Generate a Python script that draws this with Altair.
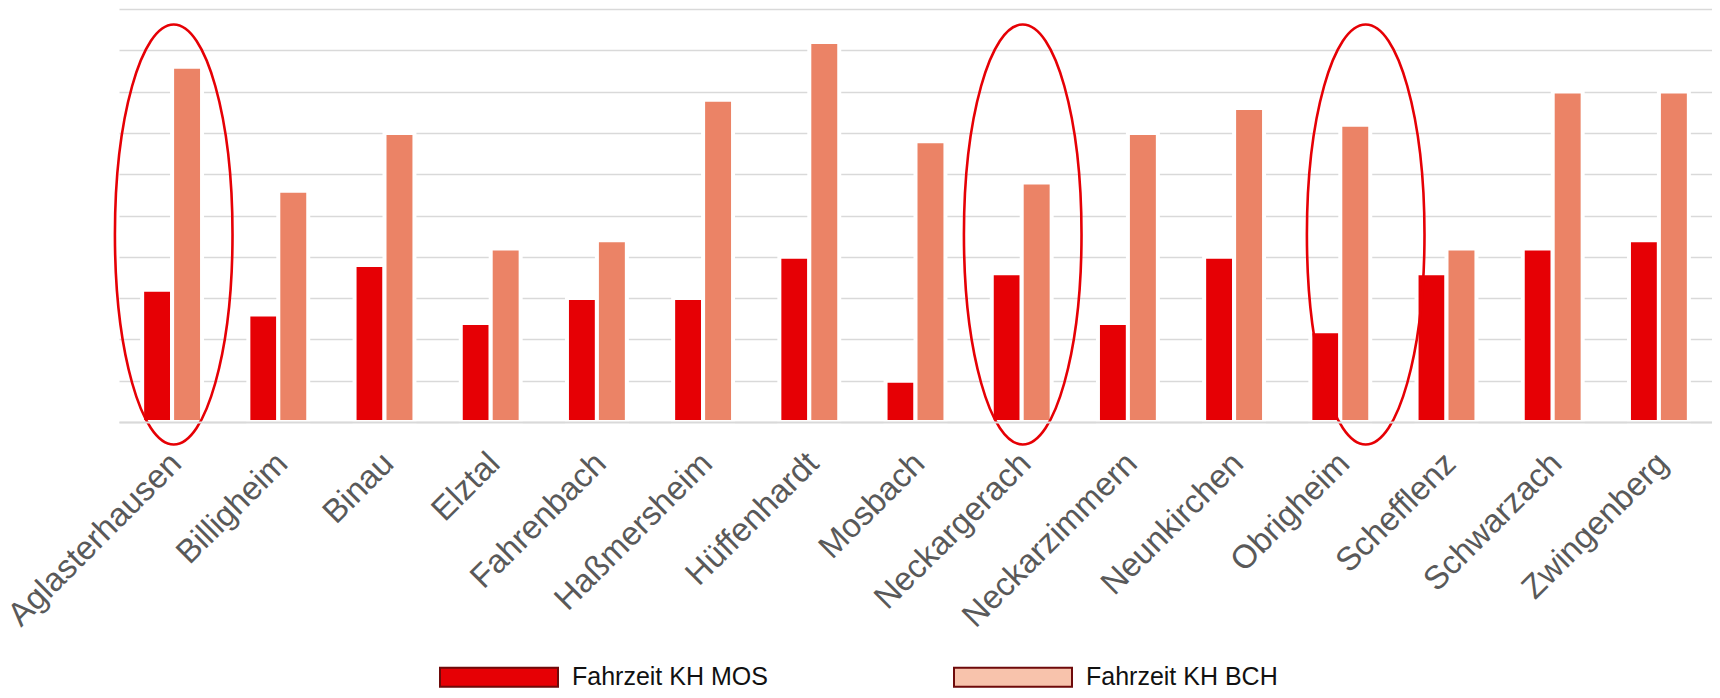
import altair as alt
import pandas as pd

# ---- data ----
categories = ["Aglasterhausen", "Billigheim", "Binau", "Elztal", "Fahrenbach",
              "Haßmersheim", "Hüffenhardt", "Mosbach", "Neckargerach",
              "Neckarzimmern", "Neunkirchen", "Obrigheim", "Schefflenz",
              "Schwarzach", "Zwingenberg"]
fahrzeit_mos = [16, 13, 19, 12, 15, 15, 20, 5, 18, 12, 20, 11, 18, 21, 22]
fahrzeit_bch = [43, 28, 35, 21, 22, 39, 46, 34, 29, 35, 38, 36, 21, 40, 40]
series = ["Fahrzeit KH MOS", "Fahrzeit KH BCH"]
bar_colors = ["#E60005", "#EB8366"]
legend_colors = ["#E60005", "#F8C3AC"]
y_ticks = [0, 5, 10, 15, 20, 25, 30, 35, 40, 45, 50]

# highlighted municipalities (hand-drawn ellipses)
circled = ["Aglasterhausen", "Neckargerach", "Obrigheim"]
circle_center = [22.7, 22.7, 22.7]
circle_band_pos = [0.527, 0.517, 0.924]

rows = []
for c, a, b in zip(categories, fahrzeit_mos, fahrzeit_bch):
    rows.append({"Gemeinde": c, "Serie": series[0], "Minuten": a, "Farbe": bar_colors[0]})
    rows.append({"Gemeinde": c, "Serie": series[1], "Minuten": b, "Farbe": bar_colors[1]})
df = pd.DataFrame(rows)
ell = pd.DataFrame({"Gemeinde": circled, "Mitte": circle_center})

x_scale = alt.Scale(paddingInner=0.436, paddingOuter=0.218)
x_axis = alt.Axis(title=None, labelAngle=-45, labelAlign="right", labelBaseline="middle",
                  labelFont="Liberation Sans", labelFontSize=33, labelColor="#595959",
                  labelPadding=36, labelOffset=4, ticks=False, tickSize=0,
                  domain=True, domainColor="#D9D9D9", domainWidth=2, zindex=1,
                  labelLimit=0, grid=False)
x_enc = alt.X("Gemeinde:N", sort=categories, scale=x_scale, axis=x_axis)
y_enc = alt.Y(
    "Minuten:Q", scale=alt.Scale(domain=[0, 50], nice=False),
    axis=alt.Axis(values=y_ticks, labels=False, ticks=False, domain=False, grid=True,
                  gridColor="#D9D9D9", gridWidth=1.7, title=None),
)
x_off = alt.XOffset("Serie:N", sort=series, scale=alt.Scale(paddingInner=0, paddingOuter=0))

bars = alt.Chart(df).mark_bar(stroke="white", strokeWidth=4).encode(
    x=x_enc, y=y_enc, xOffset=x_off,
    color=alt.Color("Farbe:N", scale=None),
)

legend_layer = alt.Chart(df).mark_point(filled=True, clip=True).transform_calculate(
    Aus="-20"
).encode(
    x=x_enc, y=alt.Y("Aus:Q"),
    fill=alt.Fill("Serie:N", sort=series,
                  scale=alt.Scale(domain=series, range=legend_colors),
                  legend=alt.Legend(title=None, orient="none", legendX=320, legendY=608,
                                    direction="horizontal",
                                    symbolType="M-1,-0.161L1,-0.161L1,0.161L-1,0.161Z",
                                    symbolSize=13924, symbolStrokeColor="#6E0A0A",
                                    symbolStrokeWidth=2, symbolOpacity=1,
                                    labelFont="Liberation Sans", labelFontSize=25,
                                    labelColor="#111111", labelOffset=13, labelLimit=500,
                                    columnPadding=182, padding=0)),
)

ellipse_path = "M0,-1A0.28,1 0 1,1 0,1A0.28,1 0 1,1 0,-1Z"
ellipse_layers = []
for name, bp in zip(circled, circle_band_pos):
    ellipse_layers.append(
        alt.Chart(ell).transform_filter(alt.datum.Gemeinde == name)
        .mark_point(shape=ellipse_path, size=176400, filled=False, color="#E60005",
                    strokeWidth=2.6, opacity=1)
        .encode(x=alt.X("Gemeinde:N", sort=categories, scale=x_scale, axis=x_axis,
                        bandPosition=bp),
                y=alt.Y("Mitte:Q"))
    )

chart = alt.layer(bars, legend_layer, *ellipse_layers).properties(
    width=1593, height=413,
    autosize=alt.AutoSizeParams(type="none"),
    padding={"left": 111, "top": 1, "right": 0, "bottom": 268},
    background="white",
).configure_view(stroke=None)

chart.save("out.html", embed_options={"renderer": "svg", "actions": False})
